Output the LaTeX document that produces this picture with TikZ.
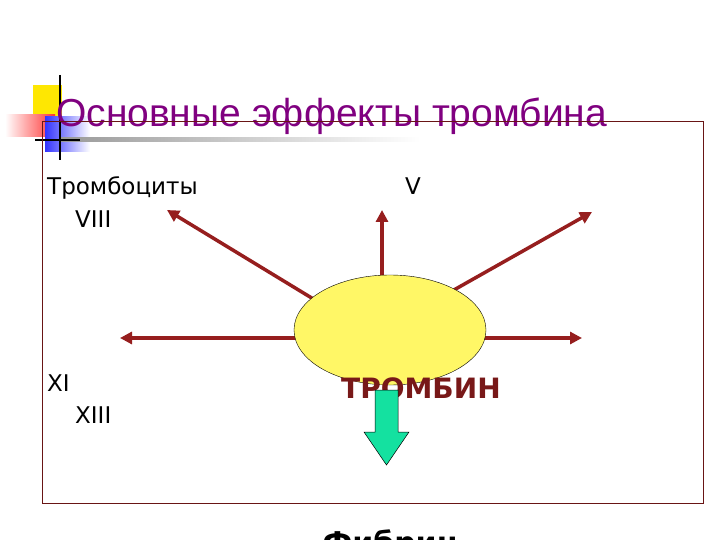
\documentclass[tikz,border=0pt]{standalone}
\usepackage{fontspec}
\setmainfont{DejaVu Sans}
\newfontfamily\tit{Liberation Sans}
\usetikzlibrary{arrows.meta,shapes.geometric}
\definecolor{arr}{RGB}{150,30,30}
\definecolor{tcol}{RGB}{128,0,128}
\definecolor{grn}{RGB}{20,225,160}
\begin{document}
\begin{tikzpicture}[x=1pt,y=-1pt,
  lbl/.style={anchor=base west,font=\fontsize{23}{23}\selectfont,inner sep=0},
  eff/.style={draw=arr,line width=3.5pt,-{Triangle[length=12pt,width=12pt]}}]
\useasboundingbox (0,0) rectangle (720,540);
\clip (0,0) rectangle (720,540);
\fill[white] (0,0) rectangle (720,540);
% decoration
\fill[yellow!90!orange] (33,85) rectangle (62,117);
\shade[left color=white,right color=red!80] (5,115) rectangle (55,137);
\shade[left color=blue!80,right color=white] (45,117) rectangle (90,152);
\shade[left color=gray!80,right color=white] (60,138) rectangle (420,142);
\draw[line width=1.5pt] (60,75) -- (60,160);
\draw[line width=1.2pt] (35,140) -- (80,140);
\node[anchor=base west,inner sep=0,text=tcol,font=\tit\fontsize{39}{39}\selectfont] (title) at (56,127) {Основные эффекты тромбина};
% frame
\draw[draw=arr!70!black,line width=0.6pt] (42,121) rectangle (703,503);
% arrows
\coordinate (c) at (390,330);
\coordinate (t1) at (167,210);
\coordinate (t2) at (382,210);
\coordinate (t3) at (592,212);
\coordinate (t4) at (120,338);
\coordinate (t5) at (582,338);
\draw[eff] (315,300) -- (t1);
\draw[eff] (382,290) -- (t2);
\draw[eff] (445,295) -- (t3);
\draw[eff] (300,338) -- (t4);
\draw[eff] (480,338) -- (t5);
\node[draw=black,fill=yellow!60!white,ellipse,minimum width=192pt,minimum height=110pt,inner sep=0] (th) at (c) {};
% labels
\node[lbl] (a) at (47,195) {Тромбоциты};
\node[lbl] (b) at (75,227) {VIII};
\node[lbl] (v) at (405,195) {V};
\node[lbl] (xi) at (47,391) {XI};
\node[lbl] (xiii) at (75,423) {XIII};
\node[anchor=base west,inner sep=0,text=arr!80!black,font=\bfseries\fontsize{28}{28}\selectfont] (tr) at (341,398) {ТРОМБИН};
% green arrow
\draw[fill=grn,draw=black,line width=0.5pt] (375,390) -- (398,390) -- (398,432) -- (409,432) -- (386.5,465) -- (364,432) -- (375,432) -- cycle;
\node[anchor=base,inner sep=0,font=\bfseries\fontsize{30}{30}\selectfont] (f) at (390,553) {Фибрин};
\end{tikzpicture}
\end{document}
